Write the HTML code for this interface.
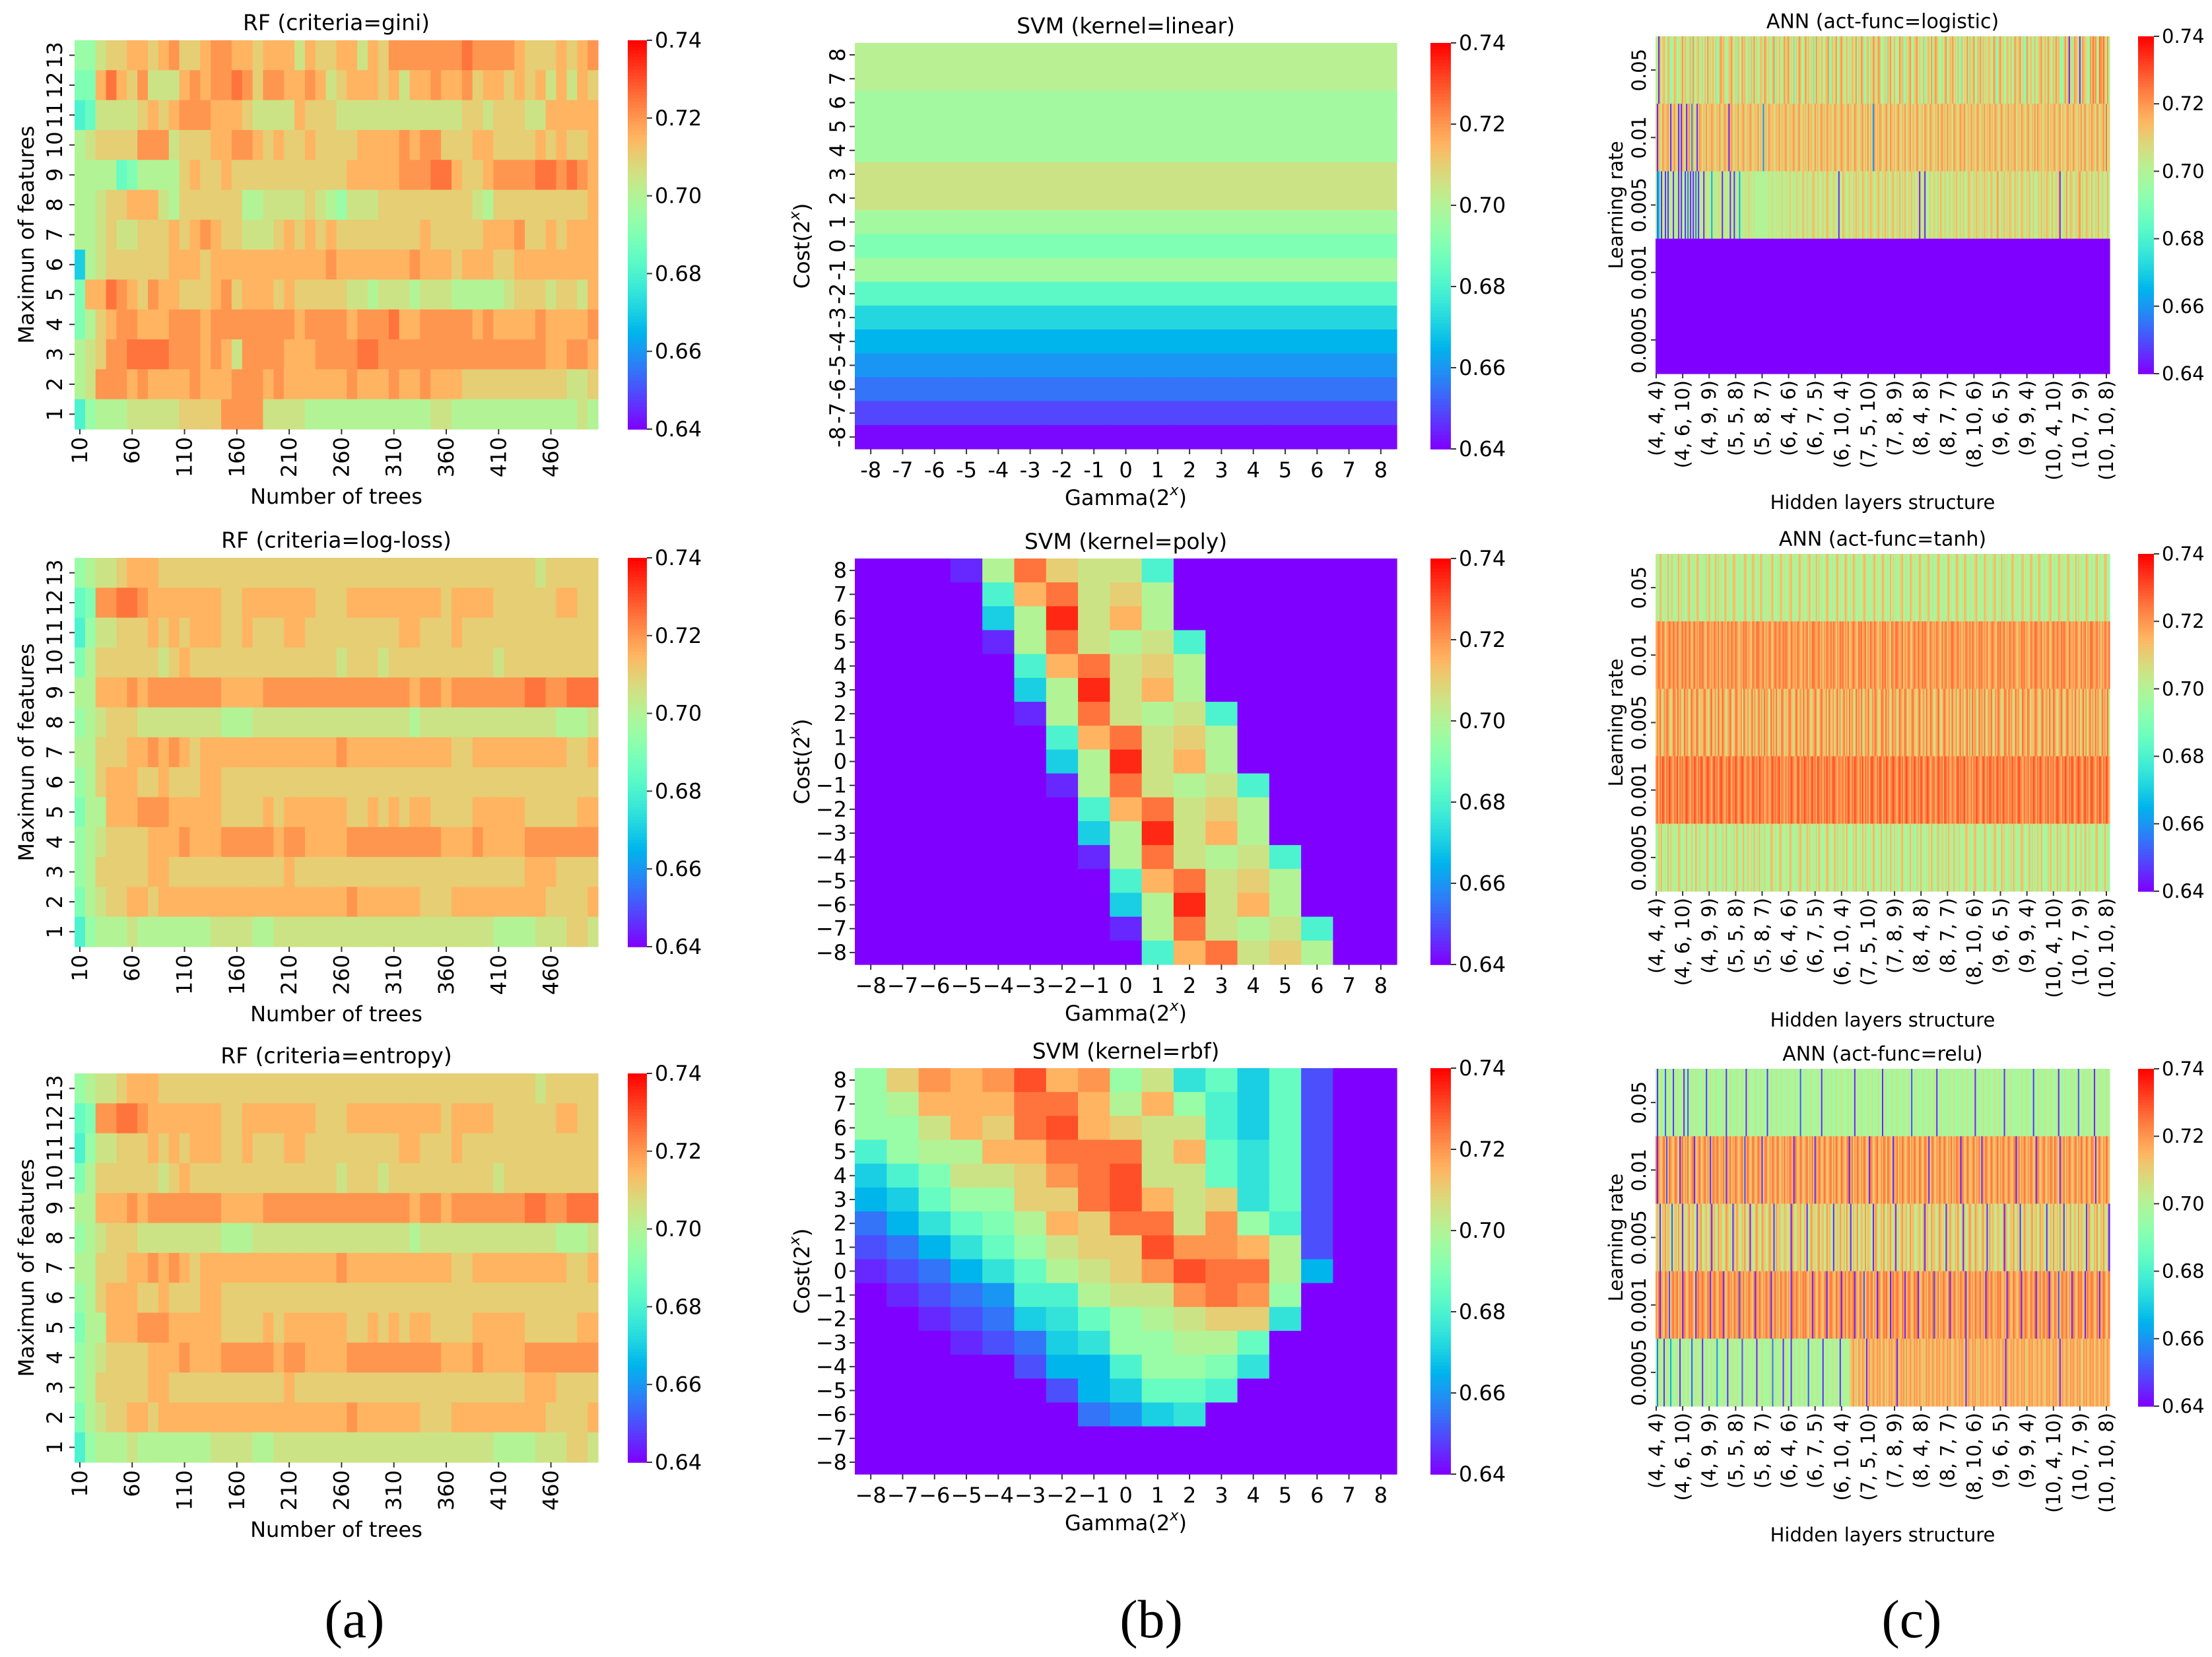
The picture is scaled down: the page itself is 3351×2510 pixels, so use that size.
<!DOCTYPE html>
<html><head><meta charset="utf-8"><style>
html,body{margin:0;padding:0;background:#fff;}
svg{display:block;font-family:"DejaVu Sans","Liberation Sans",sans-serif;}
</style></head><body>
<svg id="fig" xmlns="http://www.w3.org/2000/svg" width="3351" height="2510" viewBox="0 0 3351 2510">
<rect width="3351" height="2510" fill="#fff"/>
<text x="537" y="2480" font-family="Liberation Serif, serif" font-size="82" text-anchor="middle">(a)</text>
<text x="1744" y="2480" font-family="Liberation Serif, serif" font-size="82" text-anchor="middle">(b)</text>
<text x="2896" y="2480" font-family="Liberation Serif, serif" font-size="82" text-anchor="middle">(c)</text>
</svg>
<script>
// ===== DATA (codes: value = 0.64 + 0.005*base36(code)) =====
const rfXLabels = ['10','60','110','160','210','260','310','360','410','460'];
const rfYLabels = ['13','12','11','10','9','8','7','6','5','4','3','2','1'];
const rfGini = [
"bbdeeffefg eefggffeff fdfeeffdfe ggggggghgg ggfeeefefg",
"aafhfegddd fgfgghgegg ffgfdefffe fdffgffgef fefefdfdfe",
"89ddddefef gggfffeddd dfeeeddddd dddddddeed eeeddfffff",
"cdeeeegggd eeeffggfef eefeeeefff fgfggeeeff eeeefefeef",
"cccc9acccc efeefeeeee eeeeeeffff fggghhfeef gggghhghgf",
"ccdeefffdc eeeeeeccdd ddedcbddde eeeeeeeedc eeeeeeeeef",
"ccdeddeeef efgfeeddde fefefeeeee eeefeeeeef ffgeefefff",
"6cdeeeeeef ffefffffff ffffgfffff ffgfffefff eeffffffff",
"affhgfegff eeefgefffe feeeeeddcd ddcdddcccc cdeeedeedf",
"acefggfffg ggfggggggg gfggggfggg hffgggggfg ffffgffffg",
"cdegghhhhg ggfgfdgggg fffgggghhg gggggggggg gggggffggf",
"cdgggfgfff fgfffgggfg ffffffgfff gffgfffeee eeeeeeedde",
"8bcccddddd eeeeggggdd ddcccccccc ccccddcccc ccccccccdc"];
const rfLogLoss = [
"bcddefffee eeeeeeeeee eeeeeeeeee eeeeeeeeee eeeedeeeee",
"9agghhgfff ffffeeffff fffeeeffff fffffeffff eeeeeeffee",
"8bddeeefef efffeefeee ffeeeeeeee effeeefeee eeeeeeeeee",
"aceeeeeede feeeeeeeee eeeeedeeed eeeeeeeeee deeeeeeeee",
"ccfffgfggg ggggffffgg gggggggggg ggfggfgggg ggghhgghhh",
"bcdeeedddd ddddcccddd dddddddddd ddcddddddd ddddddcccd",
"cceeeffgfg feffffffff fffffgffff ffffffeeff fffffffeef",
"bcefffeefe eeffeeeeee eeeeeeeeee eeeeeeeeee eeeeeeeeee",
"accfffgggf ffffeeeefe ffffffeefe feffeeeeff fffeeeeeff",
"bcdeeeefff gfffgggggf ggffffgggg gggggfffgf fffggggggg",
"bceeeeeffe eeeeeeeeee feeeeeeeee eeeeeeeeee eeefffeeee",
"acdeeffeff ffffffffff ffffffgfff fffeeeffff fffffeeeef",
"8bcccdcccc cccddddccd dddddddddd dddddddddd ccccdddeed"];
const rfEntropy = [
"bcddefffee eeeeeeeeee eeeeeeeeee eeeeeeeeee eeeedeeeee",
"9agghhgfff ffffeeffff fffeeeffff fffffeffff eeeeeeffee",
"8bddeeefef efffeefeee ffeeeeeeee effeeefeee eeeeeeeeee",
"aceeeeeede feeeeeeeee eeeeedeeed eeeeeeeeee deeeeeeeee",
"ccfffgfggg ggggffffgg gggggggggg ggfggfgggg ggghhgghhh",
"bcdeeedddd ddddcccddd dddddddddd ddcddddddd ddddddcccd",
"cceeeffgfg feffffffff fffffgffff ffffffeeff fffffffeef",
"bcefffeefe eeffeeeeee eeeeeeeeee eeeeeeeeee eeeeeeeeee",
"accfffgggf ffffeeeefe ffffffeefe feffeeeeff fffeeeeeff",
"bcdeeeefff gfffgggggf ggffffgggg gggggfffgf fffggggggg",
"bceeeeeffe eeeeeeeeee feeeeeeeee eeeeeeeeee eeefffeeee",
"acdeeffeff ffffffffff ffffffgfff fffeeeffff fffffeeeef",
"8bcccdcccc cccddddccd dddddddddd dddddddddd ccccdddeed"];

const svmLinXLabels = ['-8','-7','-6','-5','-4','-3','-2','-1','0','1','2','3','4','5','6','7','8'];
const svmLinYLabels = ['8','7','6','5','4','3','2','1','0','-1','-2','-3','-4','-5','-6','-7','-8'];
const svmXLabels = ['\u22128','\u22127','\u22126','\u22125','\u22124','\u22123','\u22122','\u22121','0','1','2','3','4','5','6','7','8'];
const svmYLabels = ['8','7','6','5','4','3','2','1','0','\u22121','\u22122','\u22123','\u22124','\u22125','\u22126','\u22127','\u22128'];
const svmLinear = [0.701,0.701,0.697,0.697,0.697,0.705,0.705,0.697,0.690,0.697,0.683,0.672,0.665,0.660,0.655,0.649,0.641];
const svmPoly = [
"0001chedd80000000",
"00008fhdec0000000",
"00006cjdfc0000000",
"00001chdcd8000000",
"000008fhdec000000",
"000006cjdfc000000",
"000001chdcd800000",
"0000008fhdec00000",
"0000006cjdfc00000",
"0000001chdcd80000",
"00000008fhdec0000",
"00000006cjdfc0000",
"00000001chdcd8000",
"000000008fhdec000",
"000000006cjdfc000",
"000000001chdcd800",
"0000000008fhdec00"];
const svmRbf = [
"begfgifgbd7969200",
"bcfffhhfcfb869200",
"bbdfehifedd869200",
"8bccffhhhdf979200",
"68addeghidd979200",
"569bbeehifde79200",
"3579acfehhdgb8200",
"23579bdeeiggfc200",
"123579cdegihhc500",
"0123488cddghgb000",
"00123679bcdee7000",
"00012367bbcc90000",
"000002558bba70000",
"00000025699800000",
"00000003467000000",
"00000000000000000",
"00000000000000000"];

const annYLabels = ['0.05','0.01','0.005','0.001','0.0005'];
const annXLabels = ['(4, 4, 4)','(4, 6, 10)','(4, 9, 9)','(5, 5, 8)','(5, 8, 7)','(6, 4, 6)','(6, 7, 5)','(6, 10, 4)','(7, 5, 10)','(7, 8, 9)','(8, 4, 8)','(8, 7, 7)','(8, 10, 6)','(9, 6, 5)','(9, 9, 4)','(10, 4, 10)','(10, 7, 9)','(10, 10, 8)'];
const annLogistic = [
"cd1fcef dbfeacd febdceg cfdbefa gdcefbd ebfcgde dfceabf gefcdbe fgdceaf dcgefbd eafdgce bdfecgf cedbfga ecfdbeg dfgcebf aedgfcb egdfcea fbgdecf dcefgab fdegcbf gecdfbe cfedgbe dgfacef bedgfce gfcbdea fegcdfb cdgefab edfgcbe fgcedbf adefcgb egfdcbe cfgbdfe gdebfca fcedgbf degcbfe gbfdecf edcgfab fgdecbf ecfbdge dfgceab gecfdbf bdefgce fcgedbf dgefcab egdf1ce bgfed1c gfedcbg ehfgcdh gfhedgc",
"e1fedgf efgd1ef gde1e1f ed1fge4 fde1egf dfegdfe gfedfeg edfgef1 fgedfeg defgedf egfdefe gdfe4ef dgfefde fegdfef gedfefg edfgedf efdgefe dgefdfg efdgfef degfedf gfedfge fdegfed efgdfeg dfe4gdf egfdefg edgfefd fgedfeg defgdfe egfdefd gfedgfe dfegdfg efdgefe dgfedfg efgdefd gefdfge dfegdfe gefdgfe dfgedfe gdfefgd efdgfed fgedfeg dgfefde fegdfef gdefgdf edfgefd gfedfeg dfgedfe gfedgfd efgdhde",
"c35c1dc 1c1cdc1 cdc1d1c c1c3d1c 1d3c1cd c1ddcdc 5dcdcdd d1cdcdc 1dc1cdc 5cdcddc ecdcdcc ccccccc cdcddcc dcdcecc ddcedcd ceddcdf dcedcde fdcedcd ecdfedc deddc1d cfedcde dcedfde cdfedce dfedcde fdcedfd ecdefdc edfcedf dcedfce cde1dce 1ccdecd edcedfd cedcdec dedfcde cedcdfe dcedfde cedfdec dfecdeg dcedfce dfedcfd ecdfedc edfcdec cdedfce dfedcfd cedf1dc edgcdfe dcedfgd ecdfedc fdcedfd cedcdfc",
"0000000 0000000 0000000 0000000 0000000 0000000 0000000 0000000 0000000 0000000 0000000 0000000 0000000 0000000 0000000 0000000 0000000 0000000 0000000 0000000 0000000 0000000 0000000 0000000 0000000 0000000 0000000 0000000 0000000 0000000 0000000 0000000 0000000 0000000 0000000 0000000 0000000 0000000 0000000 0000000 0000000 0000000 0000000 0000000 0000000 0000000 0000000 0000000 0000000",
"0000000 0000000 0000000 0000000 0000000 0000000 0000000 0000000 0000000 0000000 0000000 0000000 0000000 0000000 0000000 0000000 0000000 0000000 0000000 0000000 0000000 0000000 0000000 0000000 0000000 0000000 0000000 0000000 0000000 0000000 0000000 0000000 0000000 0000000 0000000 0000000 0000000 0000000 0000000 0000000 0000000 0000000 0000000 0000000 0000000 0000000 0000000 0000000 0000000"];
const annTanh = [
"cdbfecb dcfbdec bcdfceb dcbefcd bdcfecb cdbecfd bcdfbec dcbfecd bcefdcb dcbdfec cbdfecb dcfebcd bdcefcb cdbfecd bcdefcb dcbfecd cbdefcb dcfbecd bcdfecb dcbefcd cbdfecb dcfebcd bcdfecb dcbefcd cbdfecb dcfbecd bcdefcb dcbfecd cbdfecb dcefbcd bcdfecb dcbefcd cbdfecb dcfebcd bcdefcb dcbfecd cbdefcb dcfbecd bcdfecb dcbefcd cbdfecb dcfebcd bcdefcb dcbfecd cbdfecb dcfbecd bcdfecb dcbefcd cbdfecb",
"fghgfhg efghgfh gfhgegh fhgfhge ghfgfhg hgefhgf gfhgfhe ghfgehg fhgfhgf egfhghf gfehgfh hgfgheg fghfegh gfhgfhg hgfehgf gfhgfeh fghegfh hgfghfg egfhgfh fhgegfh ghfgfhe fghgfeh ghfgheg fhgfhgf egfhghf gfehgfh hgfgheg fghfegh gfhgfhg hgfehgf gfhgfeh fghegfh hgfghfg egfhgfh fhgegfh ghfgfhe fghgfeh ghfgheg fhgfhgf egfhghf gfehgfh hgfgheg fghfegh gfhgfhg hgfehgf gfhgfeh fghegfh hgfghfg egfhgfh",
"egfhedg fhgedfh gehfgde hfgedhg fehgdfe ghfedgh efgdhfe hgedfgh edfhgef gdhfegd fhegdfh egdhfge dhfgehd fehgdfe ghfedgh efgdhfe hgedfgh edfhgef gdhfegd fhegdfh egdhfge dhfgehd egfhedg fhgedfh gehfgde hfgedhg fehgdfe ghfedgh efgdhfe hgedfgh edfhgef gdhfegd fhegdfh egdhfge dhfgehd egfhedg fhgedfh gehfgde hfgedhg fehgdfe ghfedgh efgdhfe hgedfgh edfhgef gdhfegd fhegdfh egdhfge dhfgehd",
"ghfhgih fhgihgf hgifhgh fhihgfh gihfhgi hfghihg fhighfh ihgfhgi hfhgihf ghihfgh hfgihgh fihghfg hgfhigh ghifhgf hfhgihg fgihfhg ihghfhi ghfihgh fhgighf hihgfhg ghfhgih fhgihgf hgifhgh fhihgfh gihfhgi hfghihg fhighfh ihgfhgi hfhgihf ghihfgh hfgihgh fihghfg hgfhigh ghifhgf hfhgihg fgihfhg ihghfhi ghfihgh fhgighf hihgfhg ghfhgih fhgihgf hgifhgh fhihgfh gihfhgi hfghihg fhighfh ihgfhgi hfhgihf",
"cbedfcb dcfbedc bdcfebc cdfbcde bcfdbec dbcefcb cdbfcdb bedcfbc cdbecfd bcdfbce dcebfcd bfcdbec cbdfecd bcefdbc dcbfecb cdbefdc bcfdecb dcebfdc bcdfebc cdfbecd bedcfcb cbedfcb dcfbedc bdcfebc cdfbcde bcfdbec dbcefcb cdbfcdb bedcfbc cdbecfd bcdfbce dcebfcd bfcdbec cbdfecd bcefdbc dcbfecb cdbefdc bcfdecb dcebfdc bcdfebc cdfbecd bedcfcb cbedfcb dcfbedc bdcfebc cdfbcde bcfdbec dbcefcb cdbfcdb"];
const annRelu = [
"c1bcdbc 2cbdcb1 cbdcbcd 1bc2cbd cbdcbcb dcb1bcd cbcdbcb cbdc1bc dcbcbdc bcdbc1c dbcbcdb cbdcbcb 1cbdcbc dbcbdcb bcdcbcb dcbc2cb cdbcbdc bcbdcb1 cdbcbcd bcbdcbc dcbcbdc cbc1dcb cdbcbcd bcdbcbc dcb1cdb cbcdbcb dcbcbdc bcdc2bc dcbcbcd bcbdcbc dc1cbdc bcbcdbc cdbcbcb dcbcdbc bcd1cbc cbdcbcd bcbcdbc dcbc1cd bcdbcbc cbcdbcb dcbcb1c bcdbcbc dcbcdbc bcd1bcb cdbcbcd bcbd2bc cdbcbdc bc1dcbc dcbcdbc",
"h1gfegh f2ehgfe ghfe1gh egfhdfg h1efghe fghegf1 ehgfhge gfhe1gf hegfhge fghe2fh gefhgef hgf1egh fegfhge ghfegfh egfhgf1 hgefhge fghegfh e1gfhge fhgefgh egfhgef hgfegh1 fhegfhg egfhgef 1hgefgh fegfhge hgfe1gf hegfhge fghegfh gefhgef hgf1egh fegfhge ghfegfh egfhgf1 hgefhge fghegfh e1gfhge fhgefgh egfhgef hgfegh1 fhegfhg egfhgef 1hgefgh fegfhge hgfe1gf hegfhge fghegfh gefhgef hgf1egh fegfhge",
"dfe1cfe gdfec2d efdgcf1 decfgde fcd1efg cdefdcg 1efdcge fdcegfd ec1fdge dcfegdc f1edcfg edcgfed cfgde1c gdfecdf edcf1ge cdfegdc fe1cdgf decfgde fcdgefd c1edfcg edfcgde 1cfdegc dfecgdf edc1fge cdfegdc fegdcf1 decfgde fcdgefd cdefdcg 1efdcge fdcegfd ec1fdge dcfegdc f1edcfg edcgfed cfgde1c gdfecdf edcf1ge cdfegdc fe1cdgf decfgde fcdgefd c1edfcg edfcgde 1cfdegc dfecgdf edc1fge cdfegdc fegdcf1",
"gfh1gfe hgf2egh fghegf1 hgefhgh fe1ghfg hgfehg1 fghgefh gh1fegh fgehgfh 2gfhegf hgfeh1g fhgegfh gfh1egh fgehgfg hegf1hg fhgegfh ghfegf1 hgefhgf egh1fgh gfehgfh 1gfhegh fgh1gfe hgf2egh fghegf1 hgefhgh fe1ghfg hgfehg1 fghgefh gh1fegh fgehgfh 2gfhegf hgfeh1g fhgegfh gfh1egh fgehgfg hegf1hg fhgegfh ghfegf1 hgefhgf egh1fgh gfehgfh 1gfhegh fgh1gfe hgf2egh fghegf1 hgefhgh fe1ghfg hgfehg1 fghgefh",
"b3cdbc1 cdbc5db cbdc1cb dcbdcb2 bcdcbdc 1cbdcbc dbcd4bc cbdcb1d bcdcbdc bc2dcbd cbcdbc1 dcbdcbc bcdc3bd cbcdb1c dcbc1cd bcbdcbc dcb2cbd cbcdbcb 1cbdcbc dbcdcb1 cbdcbcd efgefdg fegfe1f gefgfeg fgefgef egfgefg 1fegfge gefgfeg fgegfef egfgefg fegfgef gfegfge efgfegf gfe1fgf egfgefe gfgefgf efgfegf gefgf1g fegfgef gfegfge efgfgef fgefgfe egfgefg fgef1fg efgfegf gfegfge egfgefg fgefgfe gfgefgf"];
const cbTicks = [0.64,0.66,0.68,0.70,0.72,0.74];
const VMIN = 0.64, VMAX = 0.74;

// ===== HELPERS =====
const NS = 'http://www.w3.org/2000/svg';
const fig = document.getElementById('fig');
function mk(tag, attrs, parent){const e=document.createElementNS(NS,tag);for(const k in attrs)e.setAttribute(k,attrs[k]);(parent||fig).appendChild(e);return e;}
function rainbow(v){let t=(v-VMIN)/(VMAX-VMIN);t=Math.max(0,Math.min(1,t));
 const c=x=>Math.round(Math.max(0,Math.min(1,x))*255);
 return 'rgb('+c(Math.abs(2*t-0.5))+','+c(Math.sin(Math.PI*t))+','+c(Math.cos(Math.PI*t/2))+')';}
function decode(rows){return rows.map(s=>s.replace(/\s+/g,'').split('').map(ch=>0.64+0.005*parseInt(ch,36)));}
function txt(g,x,y,s,size,anchor,rot){const t=mk('text',{x:0,y:0,'font-size':size,'text-anchor':anchor||'middle','dominant-baseline':'central',transform:'translate('+x+','+y+')'+(rot?' rotate('+rot+')':'')},g);t.textContent=s;return t;}

function heatmap(name,grid,X0,Y0,W,H){
 const g=mk('g',{});
 
 
 const nr=grid.length;
 for(let r=0;r<nr;r++){const row=grid[r];const nc=row.length;const cw=W/nc,ch=H/nr;
  for(let c=0;c<nc;c++){const rc=mk('rect',{x:(X0+c*cw).toFixed(2),y:(Y0+r*ch).toFixed(2),width:(cw+0.6).toFixed(2),height:(ch+0.6).toFixed(2),fill:rainbow(row[c])},g);
   
   }}
 return g;}

function colorbar(name,X,Y,W,H,size){
 const g=mk('g',{});
 
 
 const n=120;
 for(let i=0;i<n;i++){const v=VMAX-(VMAX-VMIN)*(i+0.5)/n;mk('rect',{x:X,y:(Y+i*H/n).toFixed(2),width:W,height:(H/n+0.8).toFixed(2),fill:rainbow(v)},g);}
 cbTicks.forEach(v=>{const y=Y+H*(VMAX-v)/(VMAX-VMIN);
  mk('line',{x1:X+W,x2:X+W+8,y1:y,y2:y,stroke:'#333','stroke-width':2},g);
  const t=txt(g,X+W+12,y,v.toFixed(2),size,'start');
  
  });
}
function title(s,x,y,size,name){const t=txt(fig,x,y,s,size,'middle');return t;}
function supLabel(base,x,y,size,rot,name){
 const t=mk('text',{x:0,y:0,'font-size':size,'text-anchor':'middle','dominant-baseline':'central',transform:'translate('+x+','+y+')'+(rot?' rotate('+rot+')':'')});
 t.appendChild(document.createTextNode(base+'(2'));
 const sp=mk('tspan',{'font-size':size*0.7,'font-style':'italic',dy:-size*0.35},t);sp.textContent='x';
 const sp2=mk('tspan',{dy:size*0.35},t);sp2.textContent=')';
 
 }

// ===== RF column =====
const RF={x:113,w:793,h:589,tops:[61,845,1626]};
[[rfGini,'RF (criteria=gini)','rf-gini'],[rfLogLoss,'RF (criteria=log-loss)','rf-logloss'],[rfEntropy,'RF (criteria=entropy)','rf-entropy']].forEach((p,i)=>{
 const top=RF.tops[i],grid=decode(p[0]);
 heatmap(p[2],grid,RF.x,top,RF.w,RF.h);
 title(p[1],RF.x+RF.w/2,top-27,33,p[2]+'-title');
 const nc=grid[0].length,cw=RF.w/nc,nr=grid.length,ch=RF.h/nr;
 rfXLabels.forEach((s,k)=>{const x=RF.x+(k*5+0.5)*cw;mk('line',{x1:x,x2:x,y1:top+RF.h,y2:top+RF.h+8,stroke:'#333','stroke-width':2});
  const t=txt(fig,x,top+RF.h+12,s,32,'end',-90);});
 rfYLabels.forEach((s,k)=>{const y=top+(k+0.5)*ch;mk('line',{x1:RF.x-8,x2:RF.x,y1:y,y2:y,stroke:'#333','stroke-width':2});
  const t=txt(fig,RF.x-30,y,s,32,'middle',-90);});
 const xl=txt(fig,RF.x+RF.w/2,top+RF.h+102,'Number of trees',32);
 const yl=txt(fig,40,top+RF.h/2,'Maximun of features',32,'middle',-90);
 colorbar(p[2]+'-colorbar',951,top,29,RF.h,32);
});

// ===== SVM column =====
const SV={x:1295,w:821,h:615,tops:[65,846,1618]};
const linGrid=svmLinear.map(v=>svmLinXLabels.map(()=>v));
[[linGrid,'SVM (kernel=linear)','svm-linear',true],[decode(svmPoly),'SVM (kernel=poly)','svm-poly',false],[decode(svmRbf),'SVM (kernel=rbf)','svm-rbf',false]].forEach((p,i)=>{
 const top=SV.tops[i],grid=p[0];
 heatmap(p[2],grid,SV.x,top,SV.w,SV.h);
 title(p[1],SV.x+SV.w/2,top-26,33,p[2]+'-title');
 const nc=17,cw=SV.w/nc,ch=SV.h/17;
 const xl=p[3]?svmLinXLabels:svmXLabels, yl=p[3]?svmLinYLabels:svmYLabels;
 xl.forEach((s,k)=>{const x=SV.x+(k+0.5)*cw;mk('line',{x1:x,x2:x,y1:top+SV.h,y2:top+SV.h+8,stroke:'#333','stroke-width':2});
  const t=txt(fig,x,top+SV.h+32,s,32,'middle');});
 yl.forEach((s,k)=>{const y=top+(k+0.5)*ch;mk('line',{x1:SV.x-8,x2:SV.x,y1:y,y2:y,stroke:'#333','stroke-width':2});
  const t=p[3]?txt(fig,SV.x-26,y,s,32,'middle',-90):txt(fig,SV.x-12,y,s,32,'end');});
 supLabel('Gamma',SV.x+SV.w/2,top+SV.h+74,32,0,p[2]+'-x-axis-title');
 supLabel('Cost',1215,top+SV.h/2,32,-90,p[2]+'-y-axis-title');
 colorbar(p[2]+'-colorbar',2167,top,31,SV.h,32);
});

// ===== ANN column =====
const AN={x:2508,w:688,h:511,tops:[55,839,1619]};
[[annLogistic,'ANN (act-func=logistic)','ann-logistic'],[annTanh,'ANN (act-func=tanh)','ann-tanh'],[annRelu,'ANN (act-func=relu)','ann-relu']].forEach((p,i)=>{
 const top=AN.tops[i],grid=decode(p[0]);
 heatmap(p[2],grid,AN.x,top,AN.w,AN.h);
 title(p[1],AN.x+AN.w/2,top-22,30,p[2]+'-title');
 const nc=grid[0].length,cw=AN.w/nc,ch=AN.h/grid.length;
 annXLabels.forEach((s,k)=>{const x=AN.x+(k*20+0.5)*cw;mk('line',{x1:x,x2:x,y1:top+AN.h,y2:top+AN.h+7,stroke:'#333','stroke-width':2});
  const t=txt(fig,x,top+AN.h+10,s,29,'end',-90);});
 annYLabels.forEach((s,k)=>{const y=top+(k+0.5)*ch;mk('line',{x1:AN.x-7,x2:AN.x,y1:y,y2:y,stroke:'#333','stroke-width':2});
  const t=txt(fig,AN.x-25,y,s,29,'middle',-90);});
 const xl=txt(fig,AN.x+AN.w/2,top+AN.h+195,'Hidden layers structure',29);
 const yl=txt(fig,2448,top+AN.h/2,'Learning rate',29,'middle',-90);
 colorbar(p[2]+'-colorbar',3239,top,24,AN.h,29);
});
</script>
</body></html>
